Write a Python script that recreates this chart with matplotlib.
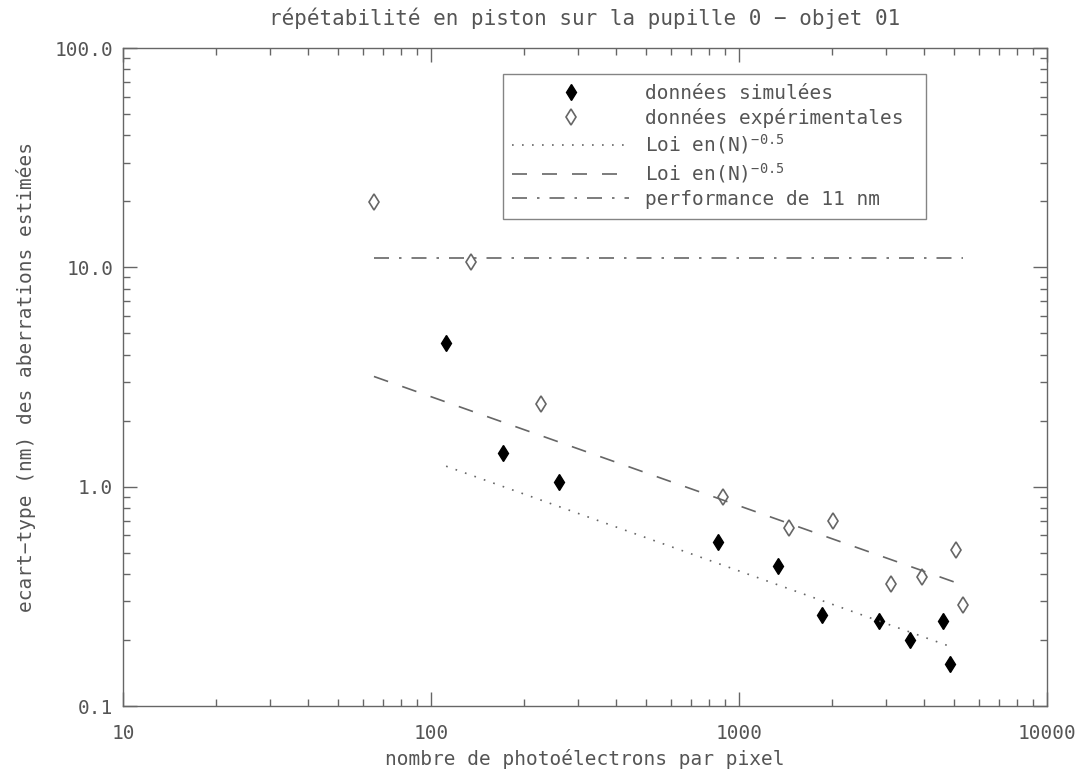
import matplotlib
matplotlib.use("Agg")
import matplotlib.pyplot as plt
from matplotlib.ticker import LogLocator, FixedLocator, FixedFormatter, NullFormatter

# Data
sim_n = [112, 171, 260, 855, 1339, 1859, 2849, 3591, 4592, 4842]
sim_sigma = [4.51, 1.42, 1.05, 0.56, 0.434, 0.26, 0.245, 0.20, 0.243, 0.155]

exp_n = [65.3, 135, 228, 887, 1453, 2019, 3117, 3927, 5065, 5333]
exp_sigma = [19.8, 10.6, 2.38, 0.895, 0.648, 0.698, 0.36, 0.388, 0.514, 0.29]

# end points of the N^-0.5 laws (straight lines in log-log)
law_sim_n = [112, 4842]
law_sim_sigma = [1.24, 0.187]
law_exp_n = [65.3, 5333]
law_exp_sigma = [3.18, 0.356]

perf_n = [65.3, 5333]
perf_sigma = [11, 11]

x_ticks = [10, 100, 1000, 10000]
x_labels = ["10", "100", "1000", "10000"]
y_ticks = [0.1, 1.0, 10.0, 100.0]
y_labels = ["0.1", "1.0", "10.0", "100.0"]

GREY = "#666666"
TXT = "#555555"
FS = 14

plt.rcParams['font.family'] = ['DejaVu Sans Mono', 'DejaVu Sans']
plt.rcParams['mathtext.fontset'] = 'custom'
plt.rcParams['mathtext.rm'] = 'DejaVu Sans Mono'
plt.rcParams['mathtext.it'] = 'DejaVu Sans Mono'

fig = plt.figure(figsize=(10.89, 7.76), dpi=100)
ax = fig.add_axes([0.1129, 0.0902, 0.8485, 0.8479])

ax.plot(sim_n, sim_sigma, linestyle='none', marker='d', markersize=8,
        color='black', markeredgecolor='black', label="données simulées")
ax.plot(exp_n, exp_sigma, linestyle='none', marker='d', markersize=8,
        markerfacecolor='white', markeredgecolor=GREY, markeredgewidth=1.2,
        label="données expérimentales")
ax.plot(law_sim_n, law_sim_sigma, linestyle=(0, (1, 5)), color=GREY, lw=1.2,
        label=r"Loi en(N)$^{-0.5}$")
ax.plot(law_exp_n, law_exp_sigma, linestyle=(0, (9, 9)), color=GREY, lw=1.2,
        label=r"Loi en(N)$^{-0.5}$")
ax.plot(perf_n, perf_sigma, linestyle=(0, (9, 6, 1.5, 6)), color=GREY, lw=1.2,
        label="performance de 11 nm")

ax.set_xscale('log')
ax.set_yscale('log')
ax.set_xlim(10, 10000)
ax.set_ylim(0.1, 100)

ax.xaxis.set_major_locator(FixedLocator(x_ticks))
ax.xaxis.set_major_formatter(FixedFormatter(x_labels))
ax.yaxis.set_major_locator(FixedLocator(y_ticks))
ax.yaxis.set_major_formatter(FixedFormatter(y_labels))
ax.xaxis.set_minor_locator(LogLocator(base=10, subs=range(2, 10), numticks=20))
ax.yaxis.set_minor_locator(LogLocator(base=10, subs=range(2, 10), numticks=20))
ax.xaxis.set_minor_formatter(NullFormatter())
ax.yaxis.set_minor_formatter(NullFormatter())

ax.tick_params(which='both', direction='in', top=True, right=True,
               color=GREY, labelcolor=TXT, labelsize=FS)
ax.tick_params(which='major', length=10, width=1)
ax.tick_params(which='minor', length=5, width=1)
ax.tick_params(axis='x', which='major', pad=13)
ax.tick_params(axis='y', which='major', pad=7)
for sp in ax.spines.values():
    sp.set_color(GREY)
    sp.set_linewidth(1)

ax.set_title("répétabilité en piston sur la pupille 0 − objet 01",
             color=TXT, fontsize=FS + 1, pad=16.5)
ax.set_xlabel("nombre de photoélectrons par pixel", color=TXT, fontsize=FS,
              labelpad=4)
ax.set_ylabel("ecart−type (nm) des aberrations estimées", color=TXT,
              fontsize=FS, labelpad=13)

leg = ax.legend(loc='upper left', bbox_to_anchor=(0.411, 0.7386, 0.458, 0.222),
                mode='expand', fontsize=FS, frameon=True, fancybox=False,
                handlelength=6.0, handletextpad=0.8, labelspacing=0.25,
                borderpad=0.5, borderaxespad=0, numpoints=1)
leg.get_frame().set_edgecolor(GREY)
leg.get_frame().set_linewidth(1)
for t in leg.get_texts():
    t.set_color(TXT)

fig.savefig("out.png", dpi=100)
